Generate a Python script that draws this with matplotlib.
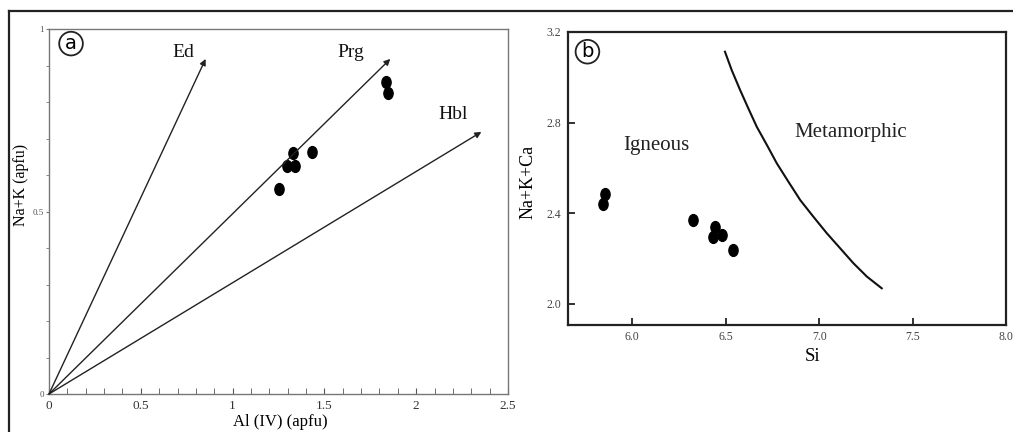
import matplotlib
matplotlib.use("Agg")
import matplotlib.pyplot as plt
from matplotlib.lines import Line2D
from matplotlib.path import Path
import numpy as np

plt.rcParams['font.family'] = ['Liberation Serif', 'DejaVu Serif']

# Panel a data: Al(IV) vs Na+K
al_iv = [1.253, 1.296, 1.329, 1.340, 1.434, 1.837, 1.846]
na_k = [0.562, 0.626, 0.660, 0.624, 0.663, 0.854, 0.825]
# trend vectors (end points) and labels
vec_names = ["Ed", "Prg", "Hbl"]
vec_x = [0.853, 1.859, 2.355]
vec_y = [0.918, 0.918, 0.718]
vec_label_x = [0.73, 1.645, 2.20]
vec_label_y = [0.935, 0.935, 0.765]

# Panel b data: Si vs Na+K+Ca
si = [5.845, 5.856, 6.323, 6.430, 6.444, 6.482, 6.537]
nakca = [2.441, 2.485, 2.371, 2.297, 2.338, 2.305, 2.238]
# Igneous / metamorphic boundary
bnd_x = [6.496, 6.532, 6.577, 6.621, 6.666, 6.720, 6.773, 6.835, 6.899,
         6.969, 7.041, 7.112, 7.183, 7.255, 7.335]
bnd_y = [3.113, 3.032, 2.944, 2.863, 2.782, 2.702, 2.621, 2.540, 2.458,
         2.385, 2.312, 2.246, 2.180, 2.121, 2.069]

# slightly tall elliptical dot marker
_c = Path.unit_circle()
dot = Path(_c.vertices * np.array([0.78, 1.0]), _c.codes)

W, H = 1013, 432
fig = plt.figure(figsize=(W / 100, H / 100), dpi=100)

# outer frame (left and top lines)
fig.add_artist(Line2D([9 / W, 9 / W], [0, 1 - 11 / H], color='#222222', lw=1.6))
fig.add_artist(Line2D([9 / W, 1], [1 - 11 / H, 1 - 11 / H], color='#222222', lw=1.6))

# ---------- Panel a ----------
axa = fig.add_axes([49 / W, 1 - 394 / H, (508 - 49) / W, (394 - 29) / H])
axa.set_xlim(0, 2.5)
axa.set_ylim(0, 1)
for s in axa.spines.values():
    s.set_color('#777777')
    s.set_linewidth(1.0)
axa.set_xticks([0, 0.5, 1, 1.5, 2, 2.5])
axa.set_xticklabels(['0', '0.5', '1', '1.5', '2', '2.5'])
axa.set_xticks([i / 10 for i in range(26)], minor=True)
axa.set_yticks([0, 0.5, 1])
axa.set_yticklabels(['0', '0.5', '1'])
axa.set_yticks([i / 10 for i in range(11)], minor=True)
axa.tick_params(axis='x', which='both', direction='in', length=4, color='#555555',
                labelsize=9.5, pad=4, labelcolor='#333333')
axa.tick_params(axis='y', which='both', direction='out', length=2.5, color='#777777',
                labelsize=6.5, pad=1, labelcolor='#555555')
axa.set_xlabel('Al (IV) (apfu)', fontsize=12, va='center')
axa.xaxis.set_label_coords(0.503, -0.077)
axa.set_ylabel('Na+K (apfu)', fontsize=11.5, va='center')
axa.yaxis.set_label_coords(-0.06, 0.573)

for name, ex, ey, lx, ly in zip(vec_names, vec_x, vec_y, vec_label_x, vec_label_y):
    axa.annotate('', xy=(ex, ey), xytext=(0, 0),
                 arrowprops=dict(arrowstyle='-|>', color='#222222', lw=1.0,
                                 mutation_scale=9, shrinkA=0, shrinkB=0))
    axa.text(lx, ly, name, fontsize=14, ha='center', va='center', color='#111111')

axa.plot(al_iv, na_k, linestyle='none', marker=dot, color='black', ms=8.5, mec='black')
axa.text(0.12, 0.96, 'a', fontsize=14, ha='center', va='center', family='DejaVu Sans',
         bbox=dict(boxstyle='circle,pad=0.12', fc='white', ec='#222222', lw=1.3))

# ---------- Panel b ----------
axb = fig.add_axes([568 / W, 1 - 325 / H, (1006 - 568) / W, (325 - 32) / H])
axb.set_xlim(5.656, 8.0)
axb.set_ylim(1.907, 3.2)
for s in axb.spines.values():
    s.set_color('#222222')
    s.set_linewidth(1.6)
axb.set_xticks([6.0, 6.5, 7.0, 7.5, 8.0])
axb.set_xticklabels(['6.0', '6.5', '7.0', '7.5', '8.0'])
axb.set_yticks([2.0, 2.4, 2.8, 3.2])
axb.set_yticklabels(['2.0', '2.4', '2.8', '3.2'])
axb.tick_params(axis='both', direction='in', length=5, width=1.3, color='#222222',
                labelsize=8.5, labelcolor='#444444')
axb.tick_params(axis='x', pad=4)
axb.tick_params(axis='y', pad=5)
axb.set_xlabel('Si', fontsize=13.5, va='center')
axb.xaxis.set_label_coords(0.559, -0.109)
axb.set_ylabel('Na+K+Ca', fontsize=13, va='center')
axb.yaxis.set_label_coords(-0.092, 0.488)

axb.plot(bnd_x, bnd_y, '-', color='#111111', lw=1.5, solid_joinstyle='round')
axb.plot(si, nakca, linestyle='none', marker=dot, color='black', ms=8.5, mec='black')
axb.text(6.13, 2.70, 'Igneous', fontsize=15, ha='center', va='center', color='#222222')
axb.text(7.17, 2.755, 'Metamorphic', fontsize=15, ha='center', va='center', color='#222222')
axb.text(5.76, 3.113, 'b', fontsize=14, ha='center', va='center', family='DejaVu Sans',
         bbox=dict(boxstyle='circle,pad=0.12', fc='white', ec='#222222', lw=1.3))

fig.savefig('out.png', dpi=100)
